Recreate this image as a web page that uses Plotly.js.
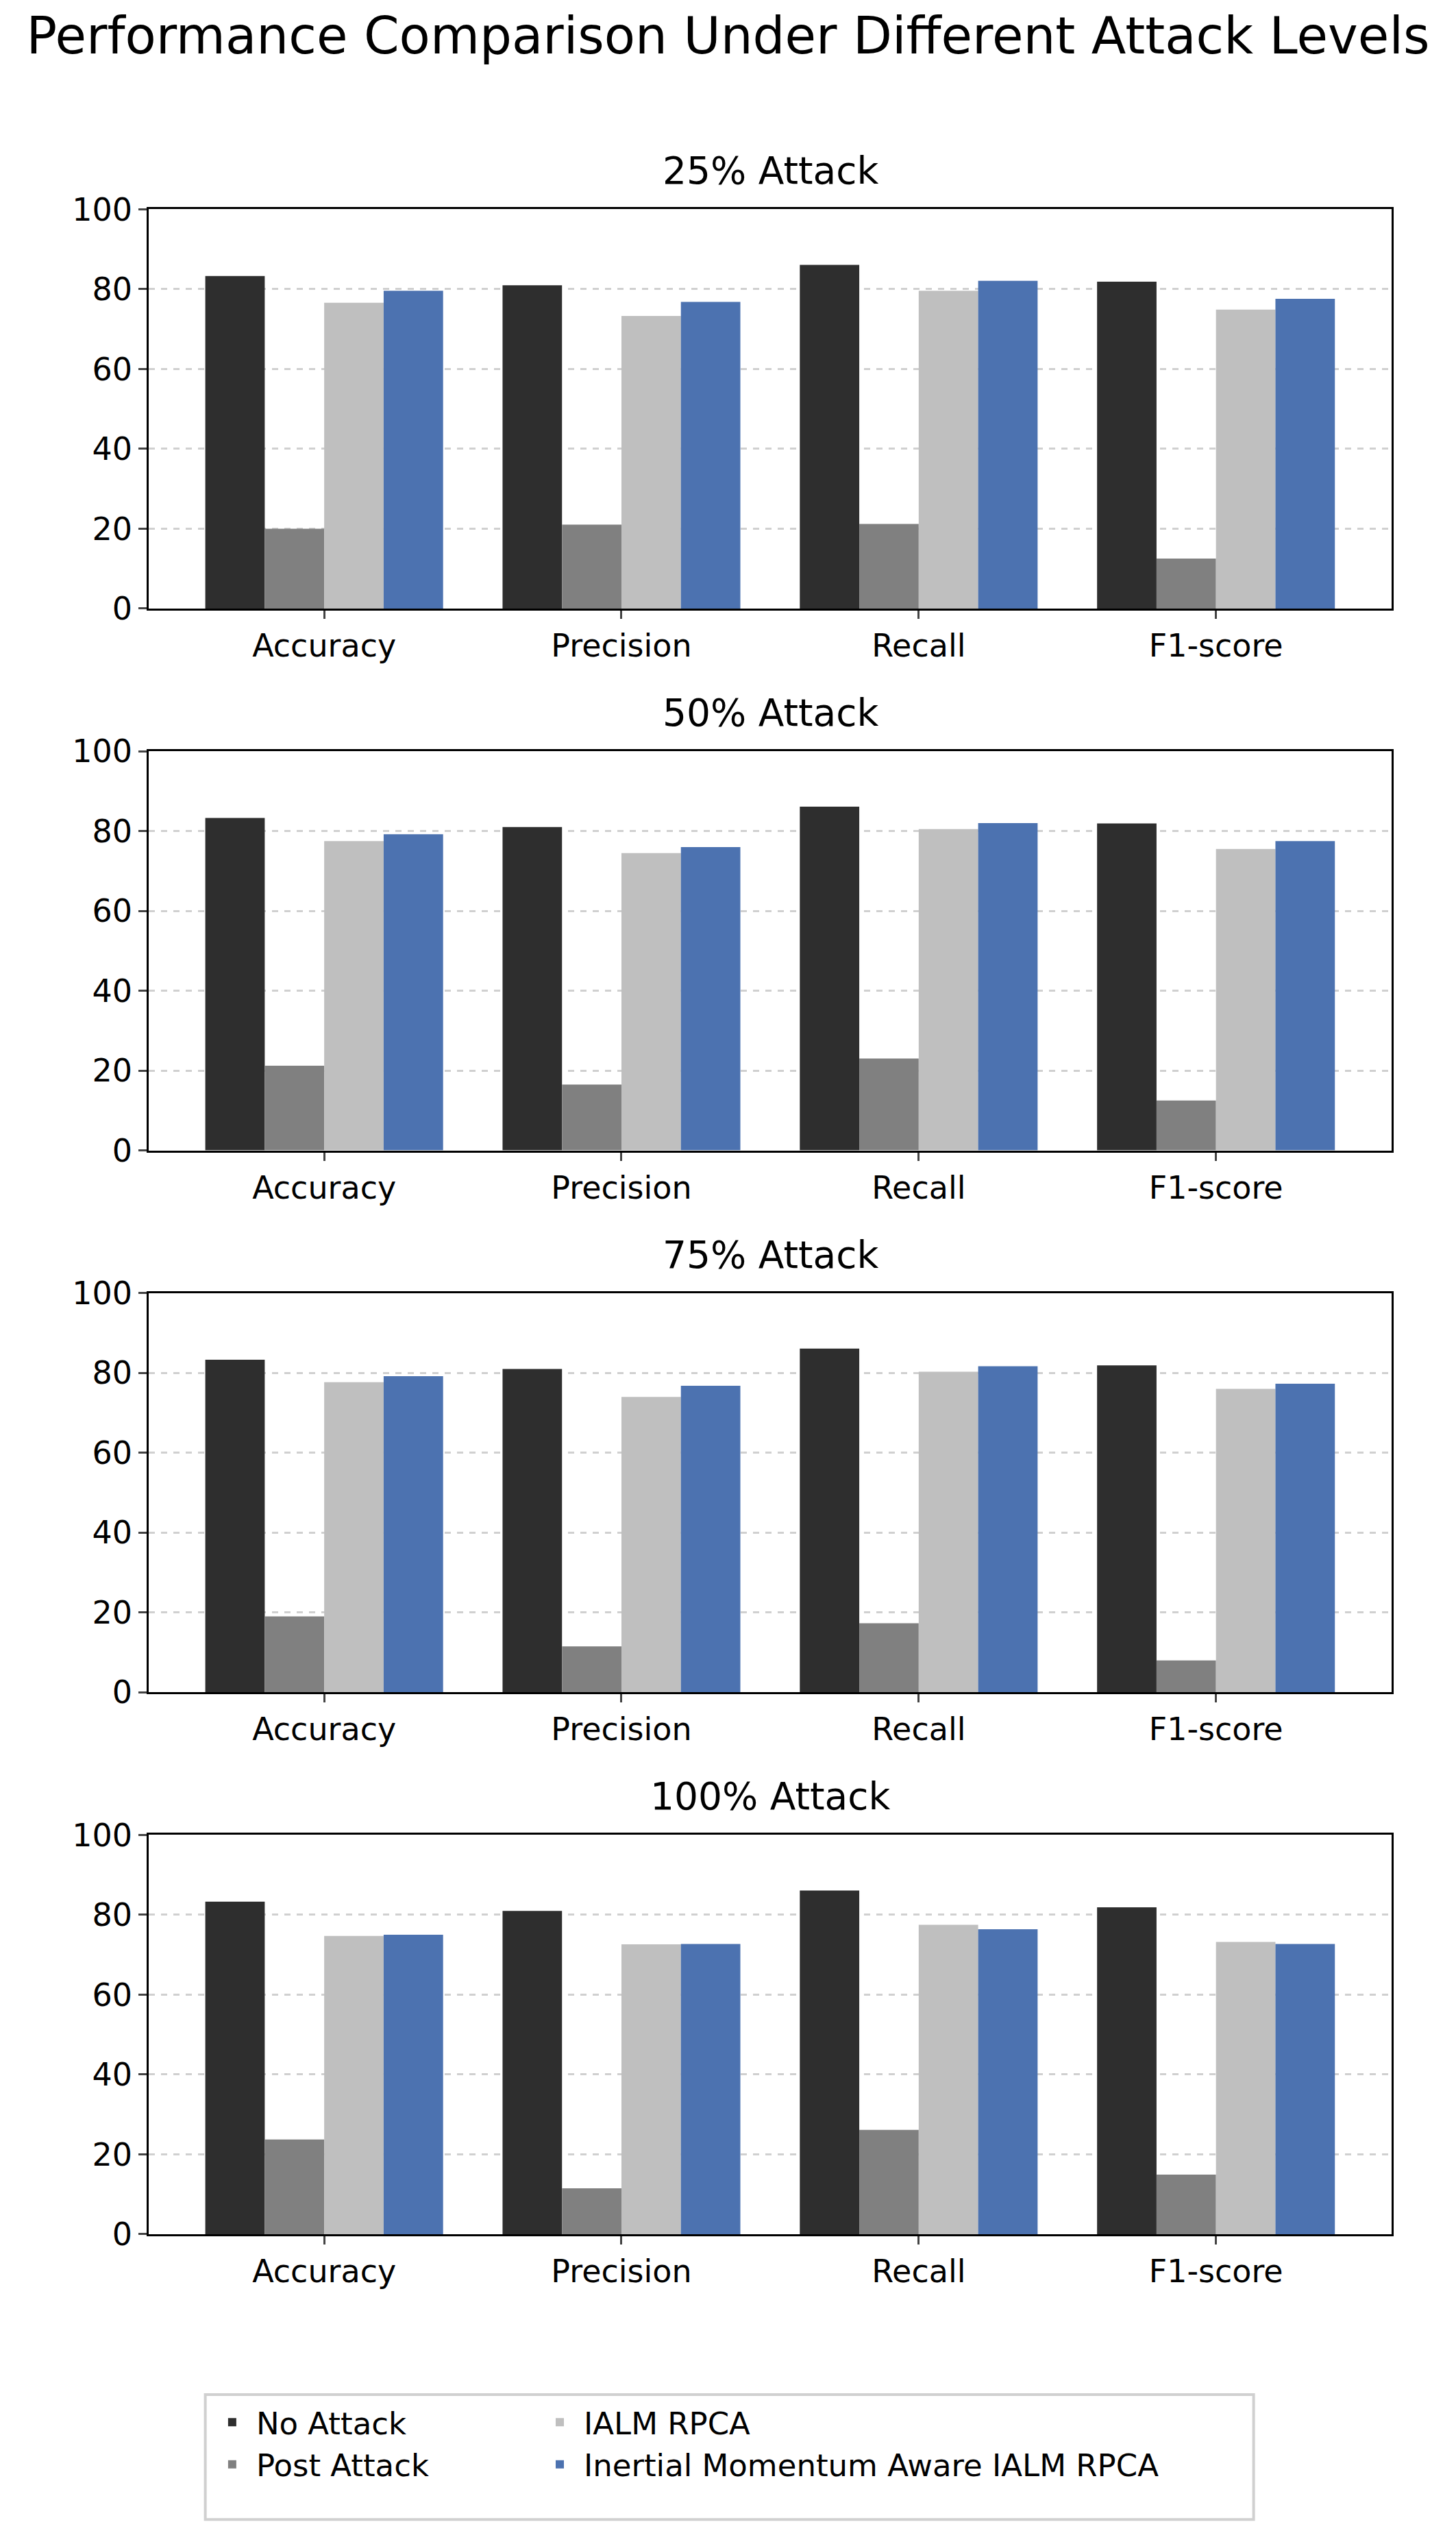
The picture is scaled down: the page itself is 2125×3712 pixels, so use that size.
<!DOCTYPE html>
<html>
<head>
<meta charset="utf-8">
<script src="https://cdn.plot.ly/plotly-3.0.1.min.js"></script>
<style>body{margin:0;background:#fff}</style>
</head>
<body>
<div id="chart" style="width:2125px;height:3712px"></div>
<script>
// Metrics and attack levels
var metrics = ["Accuracy", "Precision", "Recall", "F1-score"];
var levels = ["25% Attack", "50% Attack", "75% Attack", "100% Attack"];
var seriesNames = ["No Attack", "Post Attack", "IALM RPCA", "Inertial Momentum Aware IALM RPCA"];

var noAttack = [83.3, 81.0, 86.1, 81.9];
var postAttack = [
  [20.0, 21.0, 21.2, 12.5],
  [21.2, 16.5, 23.0, 12.5],
  [19.0, 11.5, 17.3, 8.0],
  [23.7, 11.5, 26.1, 14.9]
];
var ialm = [
  [76.6, 73.3, 79.6, 74.9],
  [77.5, 74.5, 80.5, 75.5],
  [77.7, 74.0, 80.3, 76.0],
  [74.7, 72.6, 77.5, 73.2]
];
var inertial = [
  [79.6, 76.8, 82.1, 77.6],
  [79.2, 76.0, 82.0, 77.5],
  [79.2, 76.8, 81.7, 77.3],
  [75.0, 72.7, 76.4, 72.7]
];

var colors = ["#2e2e2e", "#808080", "#bfbfbf", "#4c72b0"];
var legendOf = ["legend", "legend", "legend2", "legend2"];
var font = "DejaVu Sans, sans-serif";

// panel vertical domains (paper fractions, top to bottom)
var domains = [[0.7608, 0.9177], [0.5478, 0.7047], [0.3348, 0.4917], [0.1218, 0.2787]];

var legendBase = {orientation: "v", y: 0.0575, yanchor: "top", xanchor: "left",
                  bgcolor: "rgba(0,0,0,0)", borderwidth: 0, font: {size: 45},
                  tracegroupgap: 0, itemwidth: 60};

var data = [];
var layout = {
  width: 2125, height: 3712,
  margin: {t: 0, r: 0, l: 0, b: 0},
  paper_bgcolor: "#fff", plot_bgcolor: "#fff",
  barmode: "group", bargap: 0.2, bargroupgap: 0,
  font: {family: font, size: 46, color: "#000"},
  title: {text: "Performance Comparison Under Different Attack Levels",
          font: {size: 74}, x: 0.5, xanchor: "center", y: 0.986, yanchor: "middle"},
  showlegend: true,
  legend: Object.assign({}, legendBase, {x: 0.143}),
  legend2: Object.assign({}, legendBase, {x: 0.368}),
  shapes: [{type: "rect", xref: "paper", yref: "paper", x0: 0.141, x1: 0.861,
            y0: 0.0096, y1: 0.0587, line: {color: "#d0d0d0", width: 4}, layer: "below"}],
  annotations: []
};

for (var p = 0; p < 4; p++) {
  var sfx = p === 0 ? "" : String(p + 1);
  var vals = [noAttack, postAttack[p], ialm[p], inertial[p]];
  for (var s = 0; s < 4; s++) {
    data.push({
      type: "bar", x: metrics, y: vals[s], name: seriesNames[s],
      marker: {color: colors[s], line: {width: 0}},
      xaxis: "x" + sfx, yaxis: "y" + sfx,
      legend: legendOf[s], legendgroup: seriesNames[s],
      showlegend: p === 0, hoverinfo: "y"
    });
  }
  layout["xaxis" + sfx] = {
    domain: [0.1022, 0.9556], anchor: "y" + sfx,
    range: [-0.59, 3.59], showline: true, mirror: true, linecolor: "#000", linewidth: 3,
    ticks: "outside", ticklen: 12, tickwidth: 3, showgrid: false, zeroline: false,
    tickfont: {size: 46}
  };
  layout["yaxis" + sfx] = {
    domain: domains[p], anchor: "x" + sfx,
    range: [0, 100], dtick: 20, showline: true, mirror: true, linecolor: "#000", linewidth: 3,
    ticks: "outside", ticklen: 12, tickwidth: 3, zeroline: false,
    showgrid: true, gridcolor: "#d0d0d0", griddash: "dash", gridwidth: 3,
    tickfont: {size: 46}
  };
  layout.annotations.push({
    text: levels[p], xref: "paper", yref: "paper", x: 0.529, y: domains[p][1] + 0.006,
    xanchor: "center", yanchor: "bottom", showarrow: false, font: {size: 55}
  });
}

Plotly.newPlot("chart", data, layout, {displayModeBar: false});
</script>
</body>
</html>
